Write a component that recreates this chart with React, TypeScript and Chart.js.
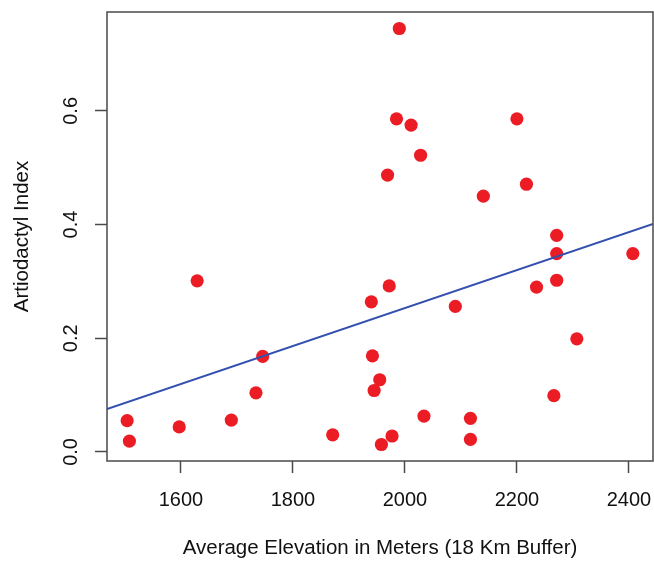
import React, { useEffect, useRef } from "react";
import { Chart, registerables } from "chart.js";

Chart.register(...registerables);

const elevation: number[] = [
  1504, 1508, 1597, 1629, 1690, 1734, 1746, 1871, 1940, 1942, 1945, 1955,
  1958, 1969, 1972, 1977, 1985, 1990, 2011, 2028, 2034, 2090, 2117, 2117,
  2140, 2200, 2217, 2235, 2266, 2271, 2271, 2271, 2307, 2407,
];
const artioIndex: number[] = [
  0.055, 0.019, 0.044, 0.301, 0.056, 0.104, 0.168, 0.03, 0.264, 0.169, 0.108,
  0.127, 0.013, 0.487, 0.292, 0.028, 0.586, 0.745, 0.575, 0.522, 0.063, 0.256,
  0.059, 0.022, 0.45, 0.586, 0.471, 0.29, 0.099, 0.302, 0.349, 0.381, 0.199,
  0.349,
];
const fitX: number[] = [1468, 2443];
const fitY: number[] = [0.0756, 0.401];
const xTicks: number[] = [1600, 1800, 2000, 2200, 2400];
const yTicks: number[] = [0.0, 0.2, 0.4, 0.6];
const xRange: number[] = [1468, 2443];
const yRange: number[] = [-0.016, 0.774];

const xTitle = "Average Elevation in Meters (18 Km Buffer)";
const yTitle = "Artiodactyl Index";

const FONT = "'Liberation Sans', Arial, Helvetica, sans-serif";
const AXIS_COLOR = "#4a4a4a";

const boxPlugin = {
  id: "rbox",
  afterDraw(chart: any) {
    const { ctx, chartArea } = chart;
    ctx.save();
    ctx.strokeStyle = AXIS_COLOR;
    ctx.lineWidth = 1.5;
    ctx.strokeRect(
      chartArea.left,
      chartArea.top,
      chartArea.right - chartArea.left,
      chartArea.bottom - chartArea.top
    );
    ctx.restore();
  },
};

export default function App() {
  const ref = useRef<HTMLCanvasElement | null>(null);
  useEffect(() => {
    if (!ref.current) return;
    const chart = new Chart(ref.current, {
      type: "scatter",
      data: {
        datasets: [
          {
            type: "line",
            data: fitX.map((x, i) => ({ x, y: fitY[i] })),
            borderColor: "rgb(52,80,175)",
            borderWidth: 2,
            pointRadius: 0,
            showLine: true,
            fill: false,
            order: 0,
          } as any,
          {
            data: elevation.map((x, i) => ({ x, y: artioIndex[i] })),
            backgroundColor: "rgb(236,28,36)",
            borderWidth: 0,
            pointRadius: 6.6,
            order: 1,
          },
        ],
      },
      options: {
        animation: false,
        responsive: false,
        devicePixelRatio: 1,
        layout: { autoPadding: false, padding: { top: 12, right: 1, left: 0, bottom: 0 } },
        plugins: {
          legend: { display: false },
          tooltip: { enabled: false },
        },
        scales: {
          x: {
            type: "linear",
            min: xRange[0],
            max: xRange[1],
            afterBuildTicks: (s: any) => {
              s.ticks = xTicks.map((v) => ({ value: v }));
            },
            afterFit: (s: any) => {
              s.height = 100;
              s.paddingLeft = 0;
              s.paddingRight = 0;
              s.paddingTop = 0;
              s.paddingBottom = 0;
            },
            grid: {
              drawOnChartArea: false,
              drawTicks: true,
              tickLength: 12,
              tickWidth: 1.5,
              tickColor: AXIS_COLOR,
              color: AXIS_COLOR,
            },
            border: { display: false },
            ticks: {
              padding: 15,
              color: "#111",
              font: { family: FONT, size: 20 },
              callback: (v: any) => String(v),
              maxRotation: 0,
              minRotation: 0,
            },
            title: {
              display: true,
              text: xTitle,
              color: "#111",
              font: { family: FONT, size: 20.5 },
              padding: { top: 0, bottom: 0 },
            },
          },
          y: {
            type: "linear",
            min: yRange[0],
            max: yRange[1],
            afterBuildTicks: (s: any) => {
              s.ticks = yTicks.map((v) => ({ value: v }));
            },
            afterFit: (s: any) => {
              s.width = 107;
              s.paddingLeft = 0;
              s.paddingRight = 0;
              s.paddingTop = 0;
              s.paddingBottom = 0;
            },
            grid: {
              drawOnChartArea: false,
              drawTicks: true,
              tickLength: 12,
              tickWidth: 1.5,
              tickColor: AXIS_COLOR,
              color: AXIS_COLOR,
            },
            border: { display: false },
            ticks: {
              padding: 10,
              crossAlign: "center",
              minRotation: 90,
              maxRotation: 90,
              color: "#111",
              font: { family: FONT, size: 20 },
              callback: (v: any) => Number(v).toFixed(1),
            },
            title: {
              display: true,
              text: yTitle,
              color: "#111",
              font: { family: FONT, size: 20.5 },
              padding: { top: 10.5, bottom: 0 },
            },
          },
        },
      },
      plugins: [boxPlugin],
    });
    return () => chart.destroy();
  }, []);
  return (
    <div style={{ position: "absolute", left: 0, top: 0, width: 654, height: 561, background: "#fff" }}>
      <canvas ref={ref} width={654} height={561} style={{ display: "block" }} />
    </div>
  );
}
